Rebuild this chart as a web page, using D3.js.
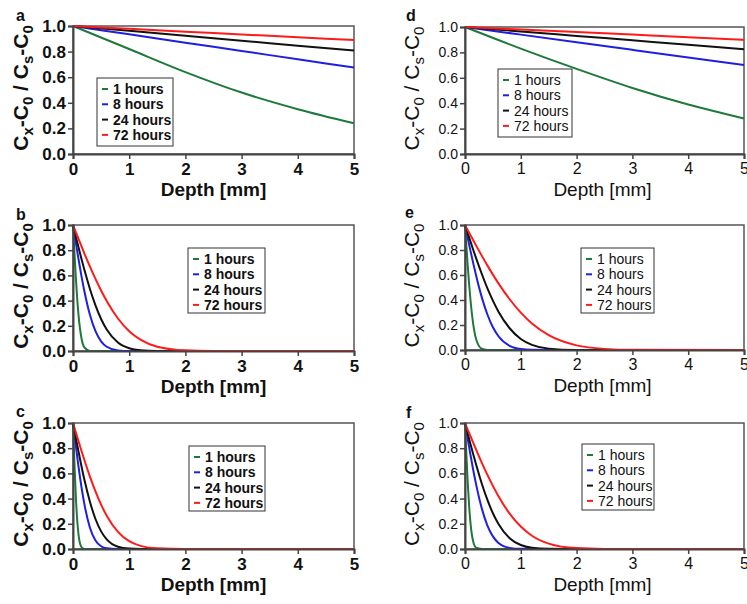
<!DOCTYPE html>
<html>
<head>
<meta charset="utf-8">
<script src="https://cdn.jsdelivr.net/npm/d3@7"></script>
<style>
  body { margin: 0; background: #fff; }
  svg { display: block; }
</style>
</head>
<body>
<div id="chart"></div>
<script>
// labels, ticks, colours
var seriesLabels = ["1 hours", "8 hours", "24 hours", "72 hours"];
var seriesColors = ["#1d7a3b", "#1f1fe0", "#111111", "#ff1a1a"];
var xTicks = [0, 1, 2, 3, 4, 5];
var yTicks = [0, 0.2, 0.4, 0.6, 0.8, 1.0];

// depth grids [mm]
var depthCoarse = [0, 1, 2, 3, 4, 5];
var depthFine = [0, 0.025, 0.05, 0.075, 0.1, 0.15, 0.2, 0.3, 0.4, 0.5, 0.6, 0.8, 1.0, 1.2, 1.5, 2.0, 2.5, 3.0, 5.0];

// panel a (read on depthCoarse)
var a1 = [1, 0.82, 0.64, 0.48, 0.35, 0.24];
var a8 = [1, 0.935, 0.87, 0.805, 0.74, 0.675];
var a24 = [1, 0.962, 0.923, 0.885, 0.846, 0.808];
var a72 = [1, 0.978, 0.956, 0.934, 0.912, 0.89];

// panel d (read on depthCoarse)
var d1 = [1, 0.83, 0.67, 0.52, 0.39, 0.28];
var d8 = [1, 0.94, 0.88, 0.82, 0.76, 0.70];
var d24 = [1, 0.965, 0.93, 0.895, 0.86, 0.825];
var d72 = [1, 0.98, 0.96, 0.94, 0.92, 0.898];

// panel b (read on depthFine)
var b1 = [1, 0.786, 0.586, 0.414, 0.277, 0.103, 0.030, 0.001, 0, 0, 0, 0, 0, 0, 0, 0, 0, 0, 0];
var b8 = [1, 0.930, 0.860, 0.791, 0.724, 0.596, 0.480, 0.289, 0.157, 0.077, 0.034, 0.005, 0.0004, 0, 0, 0, 0, 0, 0];
var b24 = [1, 0.955, 0.909, 0.864, 0.820, 0.732, 0.648, 0.494, 0.362, 0.254, 0.171, 0.068, 0.022, 0.006, 0.0007, 0, 0, 0, 0];
var b72 = [1, 0.972, 0.944, 0.915, 0.888, 0.832, 0.777, 0.671, 0.572, 0.480, 0.396, 0.258, 0.157, 0.090, 0.034, 0.005, 0.0004, 0, 0];

// panel e
var e1 = [1, 0.830, 0.668, 0.520, 0.392, 0.199, 0.086, 0.010, 0.0006, 0, 0, 0, 0, 0, 0, 0, 0, 0, 0];
var e8 = [1, 0.947, 0.894, 0.841, 0.789, 0.689, 0.594, 0.423, 0.286, 0.182, 0.110, 0.033, 0.0076, 0.0014, 0.0001, 0, 0, 0, 0];
var e24 = [1, 0.966, 0.932, 0.899, 0.865, 0.798, 0.733, 0.610, 0.495, 0.395, 0.306, 0.174, 0.088, 0.041, 0.011, 0.0007, 0, 0, 0];
var e72 = [1, 0.979, 0.959, 0.938, 0.917, 0.876, 0.835, 0.755, 0.677, 0.603, 0.533, 0.406, 0.299, 0.212, 0.119, 0.037, 0.009, 0.0018, 0];

// panel c
var c1 = [1, 0.688, 0.422, 0.228, 0.108, 0.016, 0.001, 0, 0, 0, 0, 0, 0, 0, 0, 0, 0, 0, 0];
var c8 = [1, 0.909, 0.820, 0.732, 0.648, 0.494, 0.362, 0.171, 0.068, 0.022, 0.006, 0.0003, 0, 0, 0, 0, 0, 0, 0];
var c24 = [1, 0.941, 0.883, 0.825, 0.769, 0.659, 0.555, 0.377, 0.238, 0.140, 0.077, 0.018, 0.003, 0.0004, 0, 0, 0, 0, 0];
var c72 = [1, 0.963, 0.926, 0.889, 0.852, 0.780, 0.710, 0.576, 0.457, 0.352, 0.264, 0.136, 0.062, 0.025, 0.005, 0.0002, 0, 0, 0];

// panel f
var f1 = [1, 0.748, 0.520, 0.335, 0.199, 0.053, 0.010, 0.0001, 0, 0, 0, 0, 0, 0, 0, 0, 0, 0, 0];
var f8 = [1, 0.935, 0.870, 0.806, 0.742, 0.621, 0.511, 0.324, 0.188, 0.100, 0.048, 0.009, 0.001, 0, 0, 0, 0, 0, 0];
var f24 = [1, 0.957, 0.915, 0.872, 0.830, 0.748, 0.668, 0.520, 0.392, 0.284, 0.199, 0.086, 0.032, 0.010, 0.0013, 0, 0, 0, 0];
var f72 = [1, 0.973, 0.946, 0.920, 0.893, 0.840, 0.788, 0.686, 0.590, 0.501, 0.419, 0.281, 0.178, 0.105, 0.043, 0.007, 0.0008, 0, 0];

// panel layout
var bold = {weight: "bold", yTick: 17, xTick: 17, title: 19, legend: 14, yTitleX: 33};
var normal = {weight: "normal", yTick: 14, xTick: 16, title: 19, legend: 14, yTitleX: 424};

var panels = [
	{tag: "a", tagX: 16, tagY: 21, depth: depthCoarse, series: [a1, a8, a24, a72], x0: 73, x1: 354, y0: 26, y1: 154, st: bold, leg: [97, 78, 76, 68]},
	{tag: "b", tagX: 16, tagY: 220, depth: depthFine, series: [b1, b8, b24, b72], x0: 73, x1: 354, y0: 225, y1: 351, st: bold, leg: [188, 248, 77, 65]},
	{tag: "c", tagX: 16, tagY: 417, depth: depthFine, series: [c1, c8, c24, c72], x0: 73, x1: 354, y0: 423, y1: 549, st: bold, leg: [189, 446, 76, 65]},
	{tag: "d", tagX: 406, tagY: 21, depth: depthCoarse, series: [d1, d8, d24, d72], x0: 465, x1: 744, y0: 27, y1: 154, st: normal, leg: [498, 69, 74, 68]},
	{tag: "e", tagX: 405, tagY: 218, depth: depthFine, series: [e1, e8, e24, e72], x0: 465, x1: 744, y0: 225, y1: 350, st: normal, leg: [581, 248, 73, 65]},
	{tag: "f", tagX: 406, tagY: 418, depth: depthFine, series: [f1, f8, f24, f72], x0: 465, x1: 744, y0: 423, y1: 549, st: normal, leg: [582, 444, 72, 66]}
];

var svg = d3.select("#chart").append("svg")
	.attr("width", 747)
	.attr("height", 604)
	.style("font-family", "'Liberation Sans', Arial, sans-serif");

svg.append("rect").attr("width", 747).attr("height", 604).attr("fill", "#fff");

panels.forEach(function(p) {
	var st = p.st;
	var xScale = d3.scaleLinear().domain([0, 5]).range([p.x0, p.x1]);
	var yScale = d3.scaleLinear().domain([0, 1]).range([p.y1, p.y0]);
	var g = svg.append("g");

	// frame
	g.append("rect")
	 .attr("x", p.x0).attr("y", p.y0)
	 .attr("width", p.x1 - p.x0).attr("height", p.y1 - p.y0)
	 .attr("fill", "none").attr("stroke", "#555").attr("stroke-width", 1.5);

	// curves
	var line = d3.line()
		.x(function(d) { return xScale(d[0]); })
		.y(function(d) { return yScale(d[1]); })
		.curve(d3.curveMonotoneX);
	p.series.forEach(function(vals, i) {
		var pts = p.depth.map(function(dp, j) { return [dp, vals[j]]; });
		g.append("path")
		 .datum(pts)
		 .attr("d", line)
		 .attr("fill", "none")
		 .attr("stroke", seriesColors[i])
		 .attr("stroke-width", 2);
	});

	// axes
	var yAxis = d3.axisLeft(yScale).tickValues(yTicks).tickFormat(d3.format(".1f")).tickSize(5).tickPadding(2);
	var xAxis = d3.axisBottom(xScale).tickValues(xTicks).tickFormat(d3.format("d")).tickSize(5).tickPadding(4);
	var ya = g.append("g").attr("transform", "translate(" + p.x0 + ",0)").call(yAxis);
	var xa = g.append("g").attr("transform", "translate(0," + p.y1 + ")").call(xAxis);
	[ya, xa].forEach(function(ax) {
		ax.select(".domain").attr("stroke", "#444").attr("stroke-width", 2);
		ax.selectAll(".tick line").attr("stroke", "#444").attr("stroke-width", 1.5);
		ax.selectAll("text").attr("fill", "#111").style("font-family", "'Liberation Sans', Arial, sans-serif")
		  .style("font-weight", st.weight);
	});
	ya.selectAll("text").style("font-size", st.yTick + "px");
	xa.selectAll("text").style("font-size", st.xTick + "px");

	// x title
	g.append("text")
	 .attr("x", (p.x0 + p.x1) / 2 + (st === bold ? 0 : -2))
	 .attr("y", p.y1 + 42)
	 .attr("text-anchor", "middle")
	 .style("font-size", st.title + "px")
	 .style("font-weight", st.weight)
	 .attr("fill", "#111")
	 .text("Depth [mm]");

	// y title with subscripts
	var yt = g.append("text")
	 .attr("transform", "translate(" + st.yTitleX + "," + ((p.y0 + p.y1) / 2 - 2) + ") rotate(-90)")
	 .attr("text-anchor", "middle")
	 .style("font-size", "21px")
	 .style("font-weight", st.weight)
	 .attr("fill", "#111");
	var parts = [["C", false], ["x", true], ["-C", false], ["0", true], [" / C", false], ["s", true], ["-C", false], ["0", true]];
	parts.forEach(function(pt) {
		if (pt[1]) {
			yt.append("tspan").attr("dy", 5).style("font-size", "15px").text(pt[0]);
		} else {
			yt.append("tspan").attr("dy", yt.selectAll("tspan").size() ? -5 : 0).text(pt[0]);
		}
	});

	// panel letter
	g.append("text")
	 .attr("x", p.tagX).attr("y", p.tagY)
	 .style("font-size", "16px")
	 .style("font-weight", "bold")
	 .attr("fill", "#111")
	 .text(p.tag);

	// legend
	var lx = p.leg[0], ly = p.leg[1];
	g.append("rect")
	 .attr("x", lx).attr("y", ly)
	 .attr("width", p.leg[2]).attr("height", p.leg[3])
	 .attr("fill", "#fff").attr("stroke", "#333").attr("stroke-width", 1);
	seriesLabels.forEach(function(lab, i) {
		var cy = ly + 11 + i * 15.3;
		g.append("line")
		 .attr("x1", lx + 5).attr("x2", lx + 11)
		 .attr("y1", cy).attr("y2", cy)
		 .attr("stroke", seriesColors[i]).attr("stroke-width", 2);
		g.append("text")
		 .attr("x", lx + 16).attr("y", cy + 5)
		 .style("font-size", st.legend + "px")
		 .style("font-weight", st.weight)
		 .attr("fill", "#111")
		 .text(lab);
	});
});
</script>
</body>
</html>
